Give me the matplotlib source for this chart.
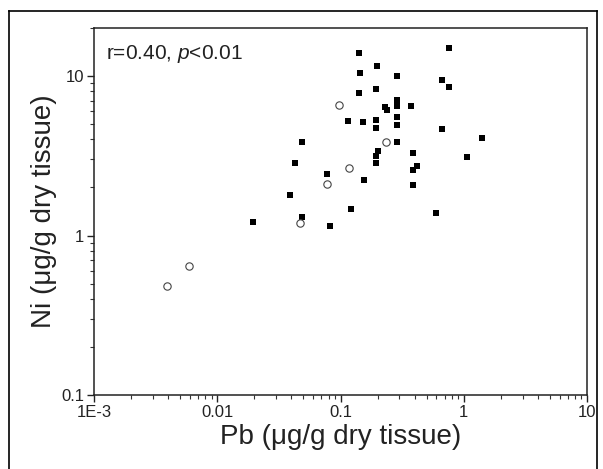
import matplotlib
matplotlib.use("Agg")
import matplotlib.pyplot as plt
from matplotlib.lines import Line2D
from matplotlib.ticker import FixedLocator, LogLocator, NullFormatter

plt.rcParams['font.family'] = ['Liberation Sans', 'DejaVu Sans']
plt.rcParams['mathtext.fontset'] = 'custom'
plt.rcParams['mathtext.rm'] = 'Liberation Sans'
plt.rcParams['mathtext.it'] = 'Liberation Sans:italic'

# Filled squares
pb_filled = [0.140, 0.197, 0.764, 0.144, 0.290, 0.662, 0.758, 0.194, 0.142, 0.289,
             0.289, 0.230, 0.240, 0.373, 0.114, 0.153, 0.195, 0.195, 0.289, 0.289,
             0.662, 1.41, 0.0484, 0.287, 0.203, 0.194, 0.194, 0.385, 1.06, 0.391,
             0.414, 0.385, 0.0773, 0.155, 0.121, 0.0822, 0.0484, 0.0428, 0.0389, 0.0195,
             0.591]
ni_filled = [13.9, 11.6, 14.9, 10.4, 9.95, 9.47, 8.59, 8.28, 7.82, 7.11,
             6.52, 6.36, 6.14, 6.51, 5.24, 5.16, 5.31, 4.71, 5.56, 4.92,
             4.67, 4.07, 3.86, 3.85, 3.39, 3.15, 2.84, 3.28, 3.12, 2.56,
             2.72, 2.06, 2.44, 2.22, 1.47, 1.15, 1.30, 2.83, 1.80, 1.21,
             1.39]
# Open circles
pb_open = [0.0964, 0.234, 0.117, 0.0773, 0.0473, 0.00586, 0.00394]
ni_open = [6.57, 3.86, 2.66, 2.09, 1.20, 0.648, 0.48]

x_ticks = [1e-3, 1e-2, 1e-1, 1, 10]
x_ticklabels = ['1E-3', '0.01', '0.1', '1', '10']
y_ticks = [0.1, 1, 10]
y_ticklabels = ['0.1', '1', '10']

fig = plt.figure(figsize=(6.03, 4.69), dpi=100)
ax = fig.add_axes([94/603, 1-395/469, (587-94)/603, (395-28)/469])
ax.set_xscale('log')
ax.set_yscale('log')
ax.set_xlim(1e-3, 10)
ax.set_ylim(0.1, 20)

ax.scatter(pb_filled, ni_filled, marker='s', s=24, color='black', zorder=3, linewidths=0)
ax.scatter(pb_open, ni_open, marker='o', s=28, facecolors='white', edgecolors='#444444',
           linewidths=0.8, zorder=3)

ax.xaxis.set_major_locator(FixedLocator(x_ticks))
ax.set_xticklabels(x_ticklabels)
ax.yaxis.set_major_locator(FixedLocator(y_ticks))
ax.set_yticklabels(y_ticklabels)
ax.xaxis.set_minor_locator(LogLocator(base=10, subs=range(2, 10)))
ax.yaxis.set_minor_locator(LogLocator(base=10, subs=range(2, 10)))
ax.xaxis.set_minor_formatter(NullFormatter())
ax.yaxis.set_minor_formatter(NullFormatter())

ax.tick_params(which='major', direction='out', length=5, width=1, labelsize=12,
               colors='#222222', pad=2)
ax.tick_params(which='minor', direction='out', length=3, width=0.8, colors='#333333')
for s in ax.spines.values():
    s.set_linewidth(1.1)
    s.set_color('#222222')

ax.set_xlabel('Pb (μg/g dry tissue)', fontsize=20, color='#222222', labelpad=3)
ax.set_ylabel('Ni (μg/g dry tissue)', fontsize=20, color='#222222', labelpad=3)

ax.text(0.025, 0.958, r'r=0.40, $\it{p}$<0.01', transform=ax.transAxes, fontsize=15,
        va='top', ha='left', color='#222222')

# outer frame
fr = dict(color='black', linewidth=1.2, transform=fig.transFigure)
fig.add_artist(Line2D([9/603, 9/603], [0, 1-11/469], **fr))
fig.add_artist(Line2D([9/603, 597/603], [1-11/469, 1-11/469], **fr))
fig.add_artist(Line2D([597/603, 597/603], [0, 1-11/469], **fr))

fig.savefig('out.png', dpi=100)
